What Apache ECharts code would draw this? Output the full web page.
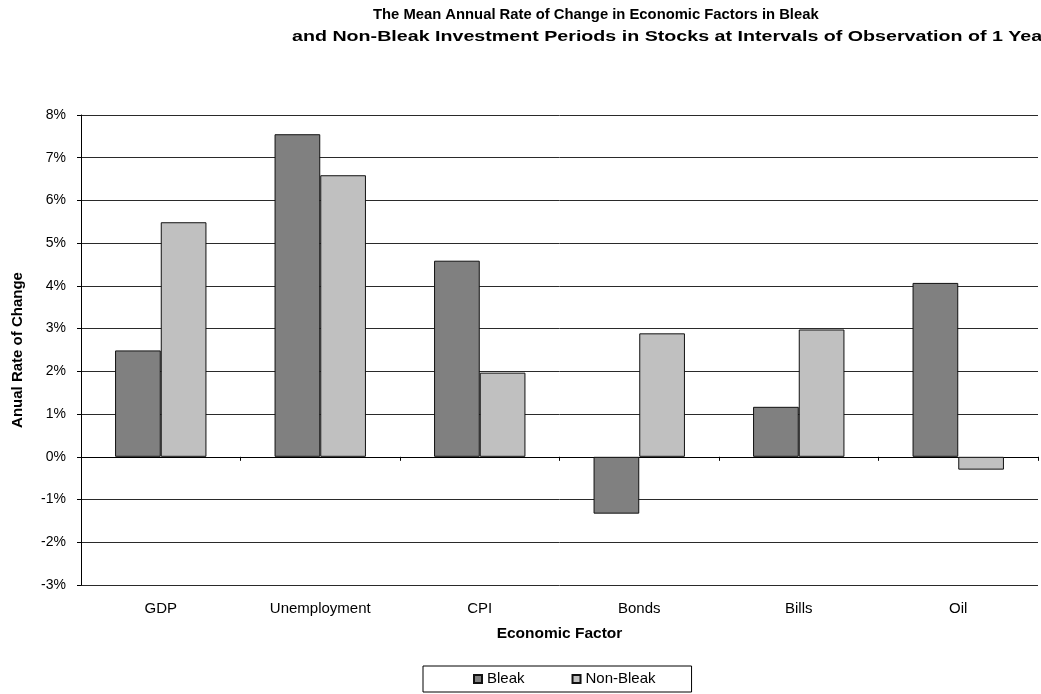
<!DOCTYPE html>
<html>
<head>
<meta charset="utf-8">
<script src="https://cdn.jsdelivr.net/npm/echarts@6/dist/echarts.min.js"></script>
<style>
  html, body { margin: 0; padding: 0; background: #fff; }
  #chart { width: 1041px; height: 694px; }
</style>
</head>
<body>
<div id="chart"></div>
<script>
// Mean annual rate of change (%) per economic factor
const categories = ['GDP', 'Unemployment', 'CPI', 'Bonds', 'Bills', 'Oil'];
const bleak = [2.49, 7.55, 4.59, -1.33, 1.17, 4.07];
const nonBleak = [5.49, 6.59, 1.97, 2.89, 2.98, -0.30];
const seriesNames = ['Bleak', 'Non-Bleak'];
const yMin = -3;
const yMax = 8;
const yStep = 1;

const titleLines = [
  'The Mean Annual Rate of Change in Economic Factors in Bleak',
  'and Non-Bleak Investment Periods in Stocks at Intervals of Observation of 1 Year'
];

const FONT = '"Liberation Sans", Arial, sans-serif';

const chart = echarts.init(document.getElementById('chart'), null, { renderer: 'canvas' });

const barStyle = (fill) => ({ color: fill, borderColor: '#111', borderWidth: 1 });

chart.setOption({
  animation: false,
  backgroundColor: '#fff',
  textStyle: { fontFamily: FONT, color: '#000' },
  title: {
    text: titleLines[0], left: 373, top: 7, padding: 0,
    textStyle: { fontFamily: FONT, fontSize: 14.8, fontWeight: 'bold', color: '#000' }
  },
  graphic: [
    {
      // second title line, set wider; it runs past the right edge
      type: 'text', x: 292, y: 29, scaleX: 1.31,
      style: {
        text: titleLines[1],
        font: 'bold 15px "Liberation Sans", Arial, sans-serif',
        fill: '#000', verticalAlign: 'top'
      }
    }
  ],
  legend: {
    data: seriesNames,
    left: 423, top: 666,
    orient: 'horizontal',
    icon: 'rect',
    itemWidth: 8, itemHeight: 8, itemGap: 47,
    padding: [5, 36, 5, 50],
    borderColor: '#000', borderWidth: 1,
    textStyle: { fontFamily: FONT, fontSize: 15, color: '#000', lineHeight: 16 }
  },
  grid: { left: 81, right: 3, top: 115, bottom: 109, containLabel: false },
  xAxis: [
    {
      // axis line sitting on 0% with ticks between categories
      type: 'category', data: categories, position: 'bottom',
      axisLine: { show: true, onZero: true, lineStyle: { color: '#000', width: 1 } },
      axisTick: { show: true, length: 4, lineStyle: { color: '#000' } },
      axisLabel: { show: false },
      splitLine: { show: false }
    },
    {
      // category labels along the bottom of the plot
      type: 'category', data: categories, position: 'bottom',
      axisLine: { show: false, onZero: false },
      axisTick: { show: false },
      axisLabel: { show: true, margin: 16, fontFamily: FONT, fontSize: 15, color: '#000' },
      splitLine: { show: false },
      name: 'Economic Factor', nameLocation: 'middle', nameGap: 41,
      nameTextStyle: { fontFamily: FONT, fontSize: 15.5, fontWeight: 'bold', color: '#000' }
    }
  ],
  yAxis: {
    type: 'value', min: yMin, max: yMax, interval: yStep,
    axisLine: { show: true, lineStyle: { color: '#000', width: 1 } },
    axisTick: { show: true, length: 4, lineStyle: { color: '#000' } },
    axisLabel: { formatter: '{value}%', margin: 15, fontFamily: FONT, fontSize: 14, color: '#000' },
    splitLine: { show: true, lineStyle: { color: '#2a2a2a', width: 1 } },
    name: 'Anual Rate of Change', nameLocation: 'middle', nameGap: 56, nameRotate: 90,
    nameTextStyle: { fontFamily: FONT, fontSize: 15, fontWeight: 'bold', color: '#000' }
  },
  series: [
    {
      name: seriesNames[0], type: 'bar', xAxisIndex: 0, data: bleak,
      barGap: '0%', barCategoryGap: '42.7%',
      itemStyle: barStyle('#808080')
    },
    {
      name: seriesNames[1], type: 'bar', xAxisIndex: 0, data: nonBleak,
      barGap: '0%', barCategoryGap: '42.7%',
      itemStyle: barStyle('#c0c0c0')
    }
  ]
});
</script>
</body>
</html>
